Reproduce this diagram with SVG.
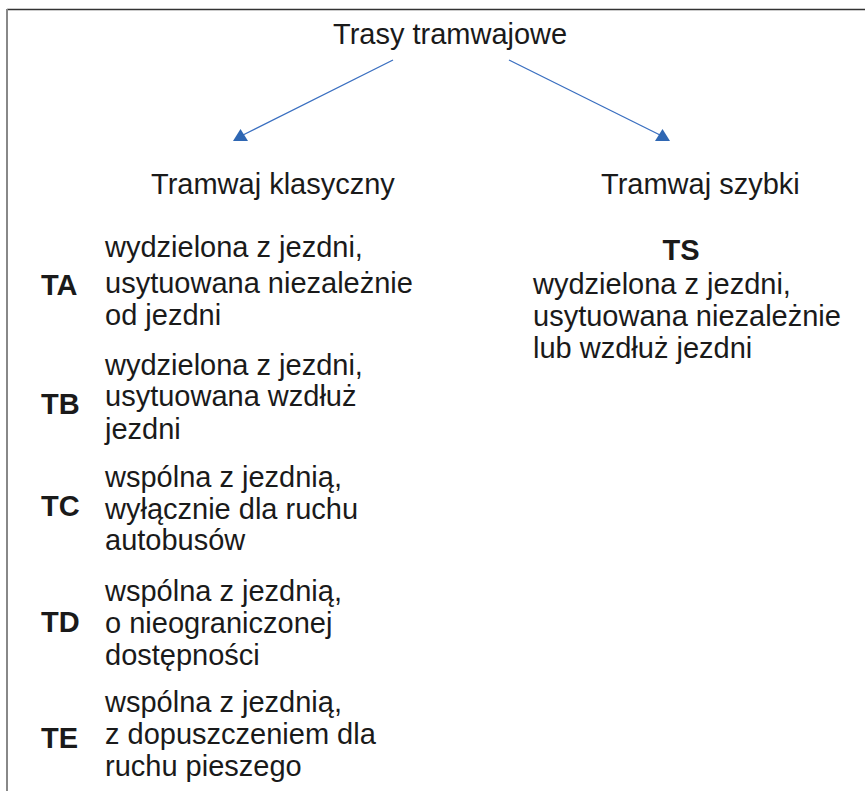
<svg xmlns="http://www.w3.org/2000/svg" width="865" height="791" viewBox="0 0 865 791">
<style>
text{font-family:"Liberation Sans",Arial,sans-serif;font-size:29px;fill:#1a1a1a}
.b{font-weight:bold}
.conn line{stroke:#3a6fc0;stroke-width:1.3}
.conn polygon{fill:#2f67b3}
</style>
<rect x="0" y="0" width="865" height="791" fill="#fff"/>
<g id="frame">
<line x1="7" y1="9.5" x2="865" y2="9.5" stroke="#333" stroke-width="1.6"/>
<line x1="7" y1="9" x2="7" y2="791" stroke="#888" stroke-width="2"/>
</g>
<g id="root"><text x="333" y="44">Trasy tramwajowe</text></g>
<g class="conn" id="connectors">
<line x1="393" y1="60" x2="243" y2="135"/>
<polygon points="233,141 248,141 240.5,129"/>
<line x1="509" y1="60" x2="660" y2="135"/>
<polygon points="655,141 670,141 662.5,129"/>
</g>
<g id="klasyczny"><text x="151" y="194">Tramwaj klasyczny</text></g>
<g id="szybki"><text x="601" y="194">Tramwaj szybki</text></g>
<g id="TS">
<text class="b" x="681" y="260" text-anchor="middle">TS</text>
<text x="533" y="294">wydzielona z jezdni,</text>
<text x="533" y="326">usytuowana niezależnie</text>
<text x="533" y="358">lub wzdłuż jezdni</text>
</g>
<g id="TA">
<text class="b" x="41" y="295">TA</text>
<text x="105" y="257">wydzielona z jezdni,</text>
<text x="105" y="293">usytuowana niezależnie</text>
<text x="105" y="325">od jezdni</text>
</g>
<g id="TB">
<text class="b" x="41" y="414">TB</text>
<text x="105" y="375">wydzielona z jezdni,</text>
<text x="105" y="406">usytuowana wzdłuż</text>
<text x="105" y="439">jezdni</text>
</g>
<g id="TC">
<text class="b" x="41" y="516">TC</text>
<text x="105" y="487">wspólna z jezdnią,</text>
<text x="105" y="519">wyłącznie dla ruchu</text>
<text x="105" y="550">autobusów</text>
</g>
<g id="TD">
<text class="b" x="41" y="632">TD</text>
<text x="105" y="601">wspólna z jezdnią,</text>
<text x="105" y="633">o nieograniczonej</text>
<text x="105" y="665">dostępności</text>
</g>
<g id="TE">
<text class="b" x="41" y="748">TE</text>
<text x="105" y="712">wspólna z jezdnią,</text>
<text x="105" y="744">z dopuszczeniem dla</text>
<text x="105" y="776">ruchu pieszego</text>
</g>
</svg>
